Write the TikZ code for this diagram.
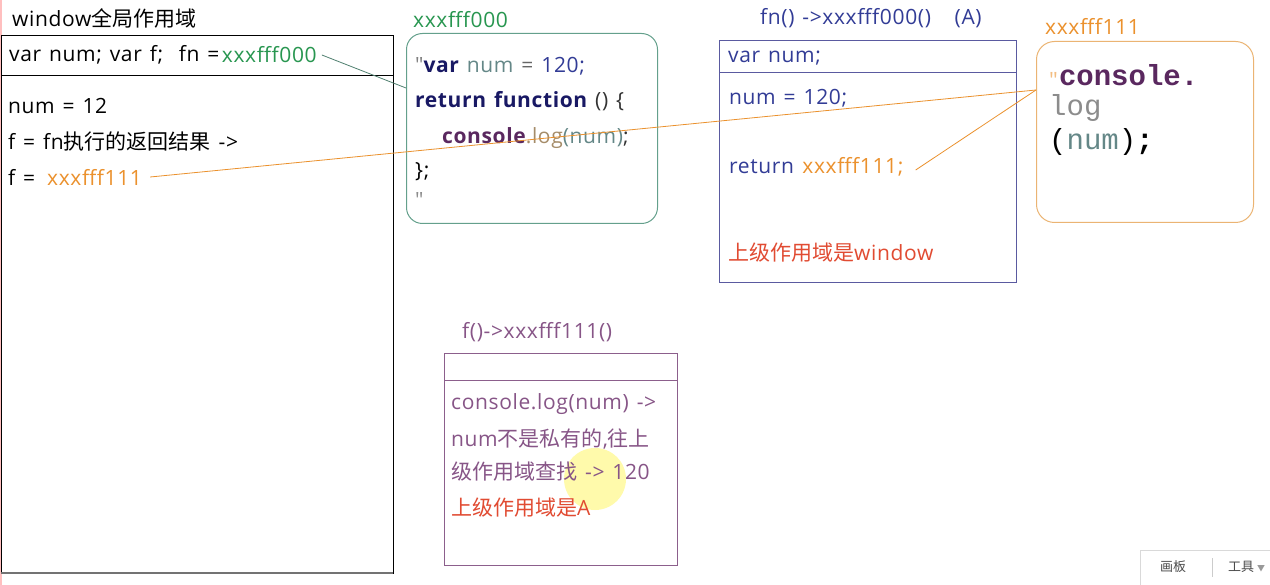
\documentclass[tikz,border=0pt]{standalone}
\usepackage{fontspec}
\setmainfont{Open Sans}[LetterSpace=3,WordSpace=1.3]
\newfontfamily\qfont{Open Sans}[Ligatures=TeXOff]
\newfontfamily\cjk{Noto Sans CJK SC}
\newfontfamily\codemono{Liberation Mono}[Ligatures=TeXOff]
\usetikzlibrary{positioning}

\definecolor{wingreen}{RGB}{40,150,80}
\definecolor{tealbox}{RGB}{100,160,140}
\definecolor{slate}{RGB}{90,90,160}
\definecolor{navy}{RGB}{50,60,150}
\definecolor{kwnavy}{RGB}{25,25,100}
\definecolor{orng}{RGB}{235,145,45}
\definecolor{orbox}{RGB}{235,180,115}
\definecolor{plum}{RGB}{140,95,140}
\definecolor{plumtxt}{RGB}{135,85,135}
\definecolor{redtxt}{RGB}{225,75,50}
\definecolor{varg}{RGB}{100,135,135}
\definecolor{logbr}{RGB}{165,140,105}
\definecolor{cons}{RGB}{90,40,95}

\tikzset{
	txt/.style={anchor=west, inner sep=0pt, font=\fontsize{21}{23}\selectfont},
	code/.style={anchor=west, inner sep=0pt, font=\fontsize{29}{32}\selectfont\codemono},
	frame/.style={anchor=north west, inner sep=0pt, line width=1pt},
}

\begin{document}
\begin{tikzpicture}[x=1pt,y=-1pt]
	\useasboundingbox (0,0) rectangle (1270,585);
	\fill[white] (0,0) rectangle (1270,585);
	\draw[red!25, line width=1.5pt] (0.8,0)--(0.8,585);

	% window
	\node[txt] (wtitle) at (12,18) {window{\cjk 全局作用域}};
	\node[frame, draw=black, minimum width=392, minimum height=538] (win) at (1,35) {};
	\draw[black!55, line width=1.5pt] (1,573)--(393,573);
	\draw (1,75)--(393,75);
	\node[txt] (wvar) at (9,55) {var num; var f;\ \ fn =};
	\node[txt, text=wingreen, right=2pt of wvar.east, anchor=west] (fnval) {xxxfff000};
	\node[txt] (wnum) at (8,106) {num = 12};
	\node[txt] (wf) at (8,142) {f = fn{\cjk 执行的返回结果} ->};
	\node[txt] (wf2) at (8,177) {f =};
	\node[txt, text=orng] (f111) at (47,177) {xxxfff111};

	% xxxfff000
	\node[txt, text=wingreen] (gtitle) at (413,20) {xxxfff000};
	\node[frame, draw=tealbox, rounded corners=16pt, minimum width=251, minimum height=190] (gbox) at (406,33) {};
	\node[txt] (g1) at (415,66) {\textcolor{black!50}{\qfont"}\textcolor{kwnavy}{\bfseries var} \textcolor{varg}{num} \textcolor{black!60}{=} \textcolor{navy}{120;}};
	\node[txt] (g2) at (415,101) {\textcolor{kwnavy}{\bfseries return function} \textcolor{black!80}{() \{}};
	\node[txt] (g3) at (442,138) {\textcolor{cons}{\bfseries console}\textcolor{logbr}{.log}\textcolor{varg}{(num)}\textcolor{black!80}{;}};
	\node[txt] (g4) at (415,172) {\};};
	\node[txt, text=black!45] (g5) at (415,200) {\qfont"};
	\coordinate (gin) at (406,88);

	% fn() A
	\node[txt, text=navy] (atitle) at (760,18) {fn() ->xxxfff000()\ \ \ (A)};
	\node[frame, draw=slate, minimum width=297, minimum height=242] (abox) at (719,40) {};
	\draw[slate] (719,72)--(1016,72);
	\node[txt, text=navy] (a1) at (728,58) {var num;};
	\node[txt, text=navy] (a2) at (729,98) {num = 120;};
	\node[txt, text=navy] (a3) at (729,167) {return};
	\node[txt, text=orng, right=8pt of a3.east, anchor=west] (ret111) {xxxfff111;};
	\node[txt, text=redtxt] (a4) at (728,253) {{\cjk 上级作用域是}window};

	% xxxfff111
	\node[txt, text=orng] (otitle) at (1045,26) {xxxfff111};
	\node[frame, draw=orbox, rounded corners=18pt, minimum width=217, minimum height=181] (obox) at (1036,41) {};
	\node[code] (o1) at (1048,75) {\textcolor{orng!60}{\fontsize{18}{20}\selectfont"}\textcolor{cons}{\bfseries console.}};
	\node[code, text=black!45] (o2) at (1049,108) {log};
	\node[code] (o3) at (1049,142) {(\textcolor{varg}{num})\textbf{;}};
	\coordinate (oin) at (1036,90);

	% f()
	\node[txt, text=plumtxt] (ptitle) at (462,332) {f()->xxxfff111()};
	\node[frame, draw=plum, minimum width=233, minimum height=212] (pbox) at (444,353) {};
	\draw[plum] (444,380)--(677,380);
	\fill[yellow!55, opacity=0.6] (595,479) circle (31);
	\node[txt, text=plumtxt] (p1) at (451,404) {console.log(num) ->};
	\node[txt, text=plumtxt] (p2) at (451,439) {num{\cjk 不是私有的},{\cjk 往上}};
	\node[txt, text=plumtxt] (p3) at (451,472) {{\cjk 级作用域查找} -> 120};
	\node[txt, text=redtxt] (p4) at (451,508) {{\cjk 上级作用域是}A};

	% links
	\draw[tealbox!80!black, line width=0.8pt] (fnval.east)++(5,0)--(gin);
	\draw[orng, line width=0.8pt] (f111.east)++(8,0)--(oin);
	\draw[orng, line width=0.8pt] (ret111.east)++(12,3)--(oin);

	% toolbar
	\draw[black!15, fill=white] (1140,585)--(1140,550)--(1275,550);
	\node[txt, font=\fontsize{13}{14}\selectfont\cjk, text=black!70] (tb1) at (1160,567) {画板};
	\draw[black!20] (1212,558)--(1212,577);
	\node[txt, font=\fontsize{13}{14}\selectfont\cjk, text=black!70] (tb2) at (1228,567) {工具 \textcolor{black!40}{\fontsize{8}{9}\selectfont▼}};
\end{tikzpicture}
\end{document}
